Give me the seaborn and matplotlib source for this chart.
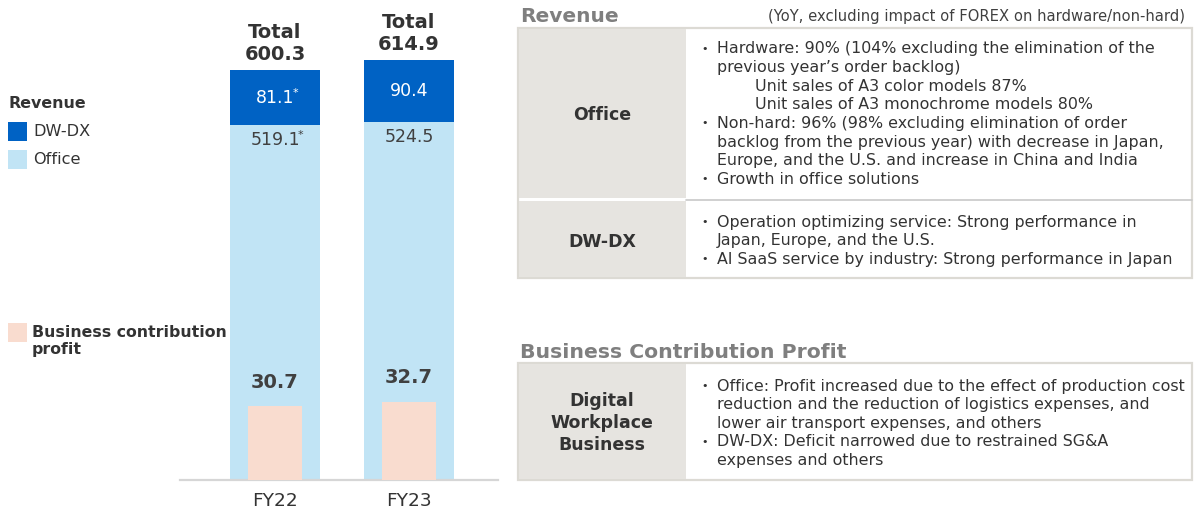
import matplotlib
matplotlib.use("Agg")
import matplotlib.pyplot as plt
import seaborn as sns
import pandas as pd
from matplotlib.patches import Rectangle

# ---------------- data ----------------
years = ["FY22", "FY23"]
office = [519.1, 524.5]
dwdx = [81.1, 90.4]
totals = [600.3, 614.9]
profit = [30.7, 32.7]
office_labels = ["519.1", "524.5"]
dwdx_labels = ["81.1", "90.4"]
has_asterisk = [True, False]

legend_title = "Revenue"
legend_items = ["DW-DX", "Office"]
profit_legend = "Business contribution\nprofit"

rev_heading = "Revenue"
rev_note = "(YoY, excluding impact of FOREX on hardware/non-hard)"
bcp_heading = "Business Contribution Profit"

office_lines = [
    ("b", "Hardware: 90% (104% excluding the elimination of the"),
    ("c", "previous year\u2019s order backlog)"),
    ("i", "Unit sales of A3 color models 87%"),
    ("i", "Unit sales of A3 monochrome models 80%"),
    ("b", "Non-hard: 96% (98% excluding elimination of order"),
    ("c", "backlog from the previous year) with decrease in Japan,"),
    ("c", "Europe, and the U.S. and increase in China and India"),
    ("b", "Growth in office solutions"),
]
dwdx_lines = [
    ("b", "Operation optimizing service: Strong performance in"),
    ("c", "Japan, Europe, and the U.S."),
    ("b", "AI SaaS service by industry: Strong performance in Japan"),
]
dwb_lines = [
    ("b", "Office: Profit increased due to the effect of production cost"),
    ("c", "reduction and the reduction of logistics expenses, and"),
    ("c", "lower air transport expenses, and others"),
    ("b", "DW-DX: Deficit narrowed due to restrained SG&A"),
    ("c", "expenses and others"),
]

# ---------------- style ----------------
sns.set_theme(style="white")
plt.rcParams["font.family"] = ["DejaVu Sans"]

DARK = "#0062C4"
LIGHT = "#C1E4F5"
PEACH = "#F9DCCF"
TXT = "#333333"
GRAYTXT = "#7F7F7F"
CELL = "#E6E4E0"
BORDER = "#DCDAD4"
BODY = 11.45

W, H = 1196, 514
PT = 0.72  # points per pixel at dpi 100
fig = plt.figure(figsize=(W / 100, H / 100), dpi=100)


def px_rect(x0, y0, x1, y1):
    return [x0 / W, 1 - y1 / H, (x1 - x0) / W, (y1 - y0) / H]


# ---------------- bar chart ----------------
df = pd.DataFrame({"year": years, "office": office, "dwdx": dwdx,
                   "total": totals, "profit": profit})
df["stack"] = df["office"] + df["dwdx"]

ax = fig.add_axes(px_rect(180, 20, 498, 480))
sns.barplot(data=df, x="year", y="stack", color=DARK, saturation=1,
            width=0.67, ax=ax, linewidth=0)
sns.barplot(data=df, x="year", y="office", color=LIGHT, saturation=1,
            width=0.67, ax=ax, linewidth=0)
ax2 = ax.twinx()
sns.barplot(data=df, x="year", y="profit", color=PEACH, saturation=1,
            width=0.40, ax=ax2, linewidth=0)

ax.set_ylim(0, 673.5)
ax2.set_ylim(0, 191.7)
ax.set_xlim(-0.709, 1.664)
for a in (ax, ax2):
    a.set_xlabel("")
    a.set_ylabel("")
    a.set_yticks([])
    for s in a.spines.values():
        s.set_visible(False)
ax.spines["bottom"].set_visible(True)
ax.spines["bottom"].set_color("#D6D6D6")
ax.spines["bottom"].set_linewidth(1.6)
ax.tick_params(axis="x", length=0, pad=9, labelsize=13.3, labelcolor=TXT)

for i in range(len(years)):
    top = office[i] + dwdx[i]
    ax.annotate(f"{totals[i]:.1f}", (i, top), xytext=(0, 16 * PT),
                textcoords="offset points", ha="center", va="center",
                fontsize=14, fontweight="bold", color=TXT)
    ax.annotate("Total", (i, top), xytext=(0, 38 * PT),
                textcoords="offset points", ha="center", va="center",
                fontsize=14, fontweight="bold", color=TXT)
    ax.annotate(dwdx_labels[i], (i, office[i] + dwdx[i] / 2), ha="center",
                va="center", fontsize=12.5, color="white")
    ax.annotate(office_labels[i], (i, office[i]), xytext=(0, -15 * PT),
                textcoords="offset points", ha="center", va="center",
                fontsize=12.5, color="#404040")
    if has_asterisk[i]:
        ax.annotate("*", (i, office[i] + dwdx[i] / 2), xytext=(18 * PT, 5 * PT),
                    textcoords="offset points", ha="left", va="center",
                    fontsize=8, color="white")
        ax.annotate("*", (i, office[i]), xytext=(23 * PT, -10 * PT),
                    textcoords="offset points", ha="left", va="center",
                    fontsize=8, color="#404040")
    ax2.annotate(f"{profit[i]:.1f}", (i, profit[i]), xytext=(0, 24 * PT),
                 textcoords="offset points", ha="center", va="center",
                 fontsize=14, fontweight="bold", color="#404040")

# ---------------- overlay (legend + tables) ----------------
ov = fig.add_axes([0, 0, 1, 1])
ov.set_xlim(0, W)
ov.set_ylim(H, 0)
ov.axis("off")
ov.patch.set_visible(False)

# legend
ov.text(9, 104, legend_title, fontsize=11.4, fontweight="bold", color=TXT,
        ha="left", va="center")
for k, (lab, col) in enumerate(zip(legend_items, [DARK, LIGHT])):
    y0 = 122 + 28 * k
    ov.add_patch(Rectangle((8, y0), 19, 19, color=col, lw=0))
    ov.text(33, y0 + 9.5, lab, fontsize=11.6, color=TXT, ha="left", va="center")
ov.add_patch(Rectangle((8, 323), 19, 19, color=PEACH, lw=0))
ov.text(32, 341, profit_legend, fontsize=11.35, fontweight="bold", color=TXT,
        ha="left", va="center", linespacing=1.1)

# headings
ov.text(520, 16, rev_heading, fontsize=14.5, fontweight="bold", color=GRAYTXT,
        ha="left", va="center")
ov.text(1185, 17, rev_note, fontsize=10.6, color="#404040", ha="right", va="center")
ov.text(520, 352, bcp_heading, fontsize=14.7, fontweight="bold", color=GRAYTXT,
        ha="left", va="center")


def draw_lines(lines, y_start, step=18.6):
    for j, (kind, txt) in enumerate(lines):
        y = y_start + j * step
        if kind == "b":
            ov.text(701, y, "\u2022", fontsize=8, color=TXT, ha="left", va="center")
            ov.text(717, y, txt, fontsize=BODY, color=TXT, ha="left", va="center")
        elif kind == "c":
            ov.text(717, y, txt, fontsize=BODY, color=TXT, ha="left", va="center")
        else:
            ov.text(755, y, txt, fontsize=BODY, color=TXT, ha="left", va="center")


# table 1
ov.add_patch(Rectangle((518, 28), 674, 250, facecolor="white",
                       edgecolor=BORDER, lw=1.6))
ov.add_patch(Rectangle((519, 29), 167, 169, facecolor=CELL, lw=0))
ov.add_patch(Rectangle((519, 201), 167, 76, facecolor=CELL, lw=0))
ov.plot([686, 1192], [199.5, 199.5], color="#C8C8C8", lw=1.2)
ov.text(602, 115, "Office", fontsize=12.5, fontweight="bold", color=TXT,
        ha="center", va="center")
ov.text(602, 242, "DW-DX", fontsize=12.5, fontweight="bold", color=TXT,
        ha="center", va="center")
draw_lines(office_lines, 49)
draw_lines(dwdx_lines, 222)

# table 2
ov.add_patch(Rectangle((518, 363), 674, 117, facecolor="white",
                       edgecolor=BORDER, lw=1.6))
ov.add_patch(Rectangle((519, 364), 167, 115, facecolor=CELL, lw=0))
ov.text(602, 423, "Digital\nWorkplace\nBusiness", fontsize=12.5,
        fontweight="bold", color=TXT, ha="center", va="center",
        linespacing=1.25)
draw_lines(dwb_lines, 386)

fig.savefig("out.png", dpi=100)
